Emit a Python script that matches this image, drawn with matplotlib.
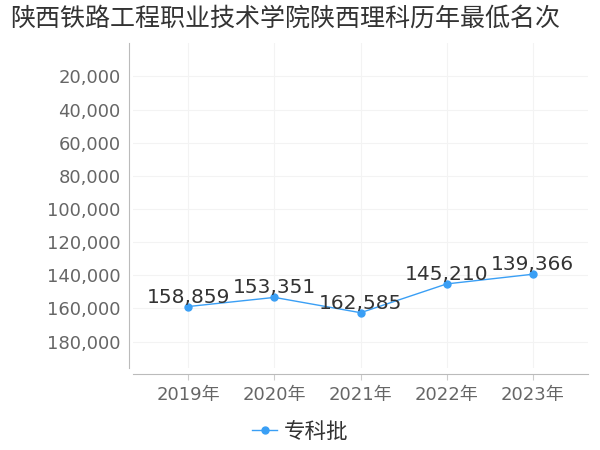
import matplotlib
matplotlib.use('Agg')
import matplotlib.pyplot as plt
from matplotlib.ticker import FuncFormatter

plt.rcParams['font.family'] = ['DejaVu Sans', 'Noto Sans CJK SC']

years = ['2019年', '2020年', '2021年', '2022年', '2023年']
ranks = [158859, 153351, 162585, 145210, 139366]
yticks = [20000, 40000, 60000, 80000, 100000, 120000, 140000, 160000, 180000]

blue = '#3a9ff5'

fig = plt.figure(figsize=(6, 4.5), dpi=100)
ax = fig.add_axes([0.222, 0.182, 0.758, 0.722])

x = list(range(len(years)))
ax.plot(x, ranks, color=blue, lw=1, marker='o', ms=5, label='专科批', zorder=3)
for xi, v in zip(x, ranks):
    ax.annotate(f'{v:,}', (xi, v), xytext=(0, 0), textcoords='offset points',
                ha='center', va='bottom', fontsize=14.5, color='#333333', zorder=4)

ax.set_xlim(-0.64, 4.64)
ax.set_ylim(196000, 0)
ax.set_xticks(x)
ax.set_xticklabels(years)
ax.set_yticks(yticks)
ax.yaxis.set_major_formatter(FuncFormatter(lambda v, p: f'{int(v):,}'))
ax.tick_params(axis='both', labelsize=13, labelcolor='#666666')
ax.tick_params(axis='x', length=4, color='#cccccc', pad=5)
ax.tick_params(axis='y', length=0, pad=6)
ax.grid(True, color='#f3f3f3', lw=0.8)
ax.set_axisbelow(True)

for s in ['top', 'right']:
    ax.spines[s].set_visible(False)
ax.spines['left'].set_position(('outward', 3))
ax.spines['bottom'].set_position(('outward', 4))
ax.spines['left'].set_color('#bbbbbb')
ax.spines['bottom'].set_color('#bbbbbb')

fig.text(0.475, 0.958, '陕西铁路工程职业技术学院陕西理科历年最低名次', ha='center', va='center',
         fontsize=18, color='#333333', family=['Noto Sans CJK SC', 'DejaVu Sans'])

fig.legend(loc='center', bbox_to_anchor=(0.5, 0.04), frameon=False,
           prop={'family': ['Noto Sans CJK SC', 'DejaVu Sans'], 'size': 15.5},
           handlelength=1.2, handletextpad=0.3, labelcolor='#333333')

fig.savefig('out.png', dpi=100)
